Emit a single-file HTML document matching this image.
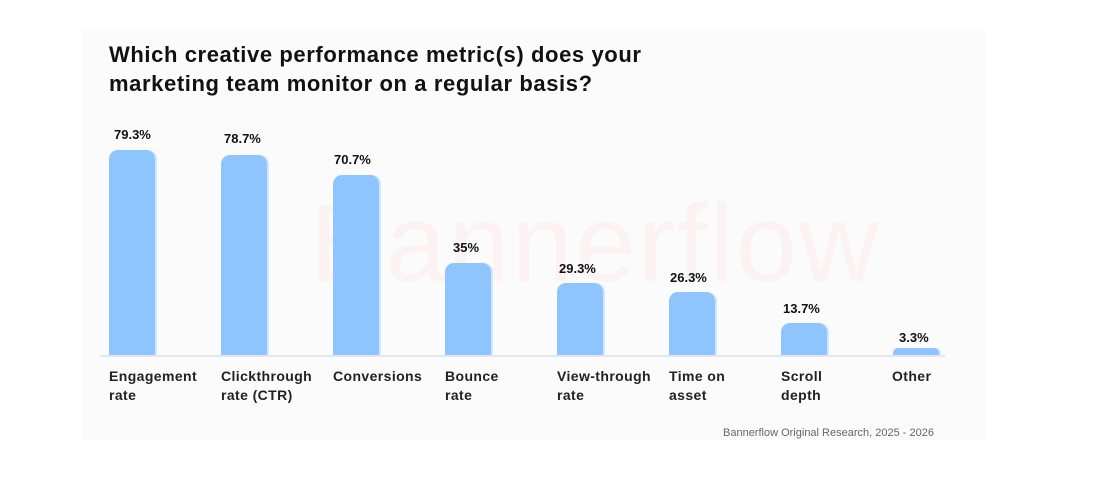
<!DOCTYPE html>
<html><head><style>
body{margin:0;width:1096px;height:496px;background:#fff;position:relative;font-family:"Liberation Sans",sans-serif;overflow:hidden}
.card{position:absolute;left:82px;top:30px;width:903px;height:410px;background:#fbfbfb}
.t{position:absolute;left:109px;top:40px;font-size:22px;font-weight:bold;color:#111;line-height:29px;letter-spacing:0.6px}
.wm{position:absolute;left:310px;top:180px;font-size:110px;color:#fdf2f2;letter-spacing:2px}
.bar{position:absolute;width:46px;background:#8ec5ff;border-radius:9px 9px 0 0;box-shadow:2px 0 0 #cfe6ff}
.v{position:absolute;font-size:13px;font-weight:bold;color:#111;width:80px}
.l{position:absolute;top:367px;font-size:14px;font-weight:bold;color:#222;line-height:19px;letter-spacing:0.4px}
.base{position:absolute;left:100px;top:355px;width:845px;height:2px;background:#e6e6ec}
.src{position:absolute;left:723px;top:427px;font-size:11px;color:#666}
</style></head><body>
<div class="card"></div>
<div class="wm">Bannerflow</div>
<div class="t">Which creative performance metric(s) does your<br>marketing team monitor on a regular basis?</div>
<div class="bar" style="left:109px;top:150px;height:205px"></div>
<div class="bar" style="left:221px;top:155px;height:200px"></div>
<div class="bar" style="left:333px;top:175px;height:180px"></div>
<div class="bar" style="left:445px;top:263px;height:92px"></div>
<div class="bar" style="left:557px;top:283px;height:72px"></div>
<div class="bar" style="left:669px;top:292px;height:63px"></div>
<div class="bar" style="left:781px;top:323px;height:32px"></div>
<div class="bar" style="left:893px;top:348px;height:7px;border-radius:5px 5px 0 0"></div>
<div class="base"></div>
<div class="v" style="left:114px;top:127px">79.3%</div>
<div class="v" style="left:224px;top:131px">78.7%</div>
<div class="v" style="left:334px;top:152px">70.7%</div>
<div class="v" style="left:453px;top:240px">35%</div>
<div class="v" style="left:559px;top:261px">29.3%</div>
<div class="v" style="left:670px;top:270px">26.3%</div>
<div class="v" style="left:783px;top:301px">13.7%</div>
<div class="v" style="left:899px;top:330px">3.3%</div>
<div class="l" style="left:109px">Engagement<br>rate</div>
<div class="l" style="left:221px">Clickthrough<br>rate (CTR)</div>
<div class="l" style="left:333px">Conversions</div>
<div class="l" style="left:445px">Bounce<br>rate</div>
<div class="l" style="left:557px">View-through<br>rate</div>
<div class="l" style="left:669px">Time on<br>asset</div>
<div class="l" style="left:781px">Scroll<br>depth</div>
<div class="l" style="left:892px">Other</div>
<div class="src">Bannerflow Original Research, 2025 - 2026</div>
</body></html>
